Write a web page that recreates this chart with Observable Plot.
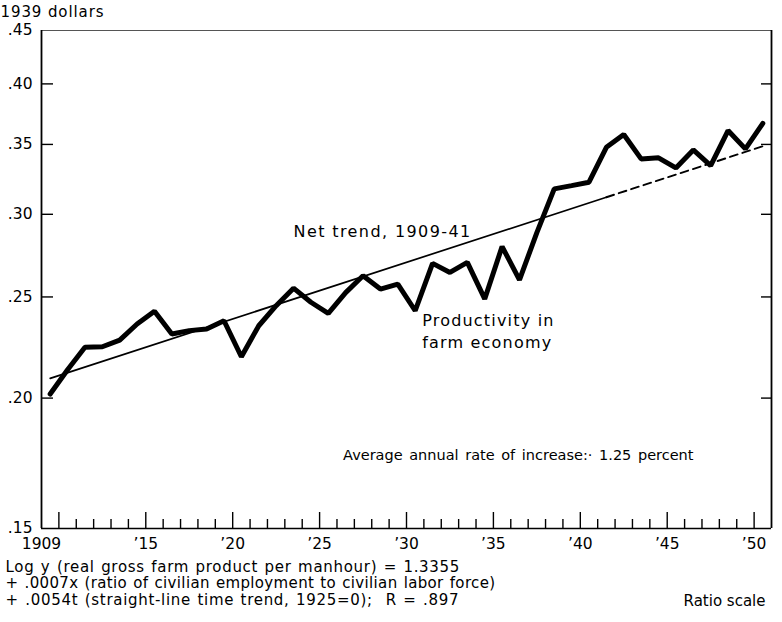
<!DOCTYPE html>
<html><head><meta charset="utf-8">
<script src="https://cdn.jsdelivr.net/npm/d3@7"></script>
<script src="https://cdn.jsdelivr.net/npm/@observablehq/plot@0.6"></script>
<style>
body{margin:0;background:#fff}
#chart svg{display:block}
</style>
</head><body><div id="chart"></div>
<script>
// Productivity in farm economy, 1939 dollars per manhour
const years = [1909,1910,1911,1912,1913,1914,1915,1916,1917,1918,1919,1920,1921,1922,1923,1924,1925,1926,1927,1928,1929,1930,1931,1932,1933,1934,1935,1936,1937,1938,1939,1940,1941,1942,1943,1944,1945,1946,1947,1948,1949,1950];
const productivity = [0.2018,0.2129,0.2237,0.2240,0.2273,0.2355,0.2422,0.2304,0.2321,0.2329,0.2372,0.2191,0.2346,0.2452,0.2549,0.2471,0.2411,0.2524,0.2620,0.2544,0.2572,0.2425,0.2692,0.2639,0.2698,0.2489,0.2794,0.2596,0.2881,0.3173,0.3196,0.3220,0.3478,0.3577,0.3390,0.3398,0.3323,0.3458,0.3340,0.3609,0.3466,0.3667];
// Net trend 1909-41 (solid), extended to 1950 (dashed)
const trendYears = [1909, 1941, 1950];
const trendValues = [0.2089, 0.3115, 0.3486];
// Axis ticks and labels
const yTickValues = [0.15, 0.20, 0.25, 0.30, 0.35, 0.40, 0.45];
const yInnerTicks = [0.20, 0.25, 0.30, 0.35, 0.40];
const majorYears = [1910,1915,1920,1925,1930,1935,1940,1945,1950];
const minorYears = [1911,1912,1913,1914,1916,1917,1918,1919,1921,1922,1923,1924,1926,1927,1928,1929,1931,1932,1933,1934,1936,1937,1938,1939,1941,1942,1943,1944,1946,1947,1948,1949];
const xLabelYears = [1909,1915,1920,1925,1930,1935,1940,1945,1950];
const xLabels = ["1909","’15","’20","’25","’30","’35","’40","’45","’50"];
// Texts
const unitLabel = "1939 dollars";
const trendLabel = "Net trend, 1909-41";
const seriesLabel = "Productivity in\nfarm economy";
const rateLabel = "Average annual rate of increase:· 1.25 percent";
const captionLines = [
  "Log y (real gross farm product per manhour) = 1.3355",
  "+ .0007x (ratio of civilian employment to civilian labor force)",
  "+ .0054t (straight-line time trend, 1925=0);  R = .897"
];
const scaleNote = "Ratio scale";
// Annotation anchors (data coordinates)
const trendLabelPos = {year: 1923.5, value: 0.2885};
const seriesLabelPos = {year: 1930.9, value: 0.2326};
const rateLabelPos = {year: 1926.35, value: 0.1761};

const series = years.map((y, i) => ({year: y + 0.5, value: productivity[i]}));
const trend = trendYears.map((y, i) => ({year: y + 0.5, value: trendValues[i]}));

const font = "DejaVu Sans";
const chart = Plot.plot({
  width: 782,
  height: 622,
  marginTop: 30,
  marginRight: 11,
  marginBottom: 94,
  marginLeft: 41,
  style: {fontFamily: font, background: "#fff", color: "#000"},
  x: {domain: [1909, 1951], axis: null},
  y: {type: "log", domain: [0.15, 0.45], axis: null},
  marks: [
    // frame
    Plot.ruleY([0.45], {stroke: "#555", strokeWidth: 1}),
    Plot.ruleY([0.15], {stroke: "#000", strokeWidth: 1.6}),
    Plot.ruleX([1909, 1951], {stroke: "#000", strokeWidth: 1.8}),
    // y ticks inward
    Plot.axisY(yInnerTicks, {anchor: "left", label: null, tickSize: -12, strokeWidth: 1.4, tickFormat: () => ""}),
    Plot.axisY(yInnerTicks, {anchor: "right", label: null, tickSize: -11, strokeWidth: 1.4, tickFormat: () => ""}),
    Plot.axisY(yTickValues, {anchor: "left", label: null, tickSize: 0, tickPadding: 9, fontSize: 15.5,
      tickFormat: d => d3.format(".2f")(d).replace(/^0/, "")}),
    // x ticks inward
    Plot.axisX(minorYears, {anchor: "bottom", label: null, tickSize: -9, strokeWidth: 1.4, tickFormat: () => ""}),
    Plot.axisX(majorYears, {anchor: "bottom", label: null, tickSize: -16, strokeWidth: 1.4, tickFormat: () => ""}),
    Plot.axisX(xLabelYears, {anchor: "bottom", label: null, tickSize: 0, tickPadding: 9, fontSize: 15.5,
      tickFormat: d => xLabels[xLabelYears.indexOf(d)]}),
    // trend lines
    Plot.line(trend.slice(0, 2), {x: "year", y: "value", stroke: "#000", strokeWidth: 1.7}),
    Plot.line(trend.slice(1), {x: "year", y: "value", stroke: "#000", strokeWidth: 1.9, strokeDasharray: "8,5"}),
    // productivity
    Plot.line(series, {x: "year", y: "value", stroke: "#000", strokeWidth: 5, strokeLinejoin: "miter", strokeLinecap: "round"}),
    // annotations
    Plot.text([trendLabelPos], {x: "year", y: "value", text: () => trendLabel, textAnchor: "start", fontSize: 16}),
    Plot.text([seriesLabelPos], {x: "year", y: "value", text: () => seriesLabel, textAnchor: "start", fontSize: 16,
      lineHeight: 1.38}),
    Plot.text([rateLabelPos], {x: "year", y: "value", text: () => rateLabel, textAnchor: "start", fontSize: 14.5}),
    Plot.text([unitLabel], {frameAnchor: "top-left", text: d => d, textAnchor: "start", dx: -41, dy: -18, fontSize: 15,
      lineAnchor: "middle"}),
    Plot.text([captionLines.join("\n")], {frameAnchor: "bottom-left", text: d => d, textAnchor: "start", dx: -36, dy: 31,
      fontSize: 15, lineHeight: 1.13, lineAnchor: "top"}),
    Plot.text([scaleNote], {frameAnchor: "bottom-right", text: d => d, textAnchor: "end", dx: -6, dy: 73, fontSize: 15,
      lineAnchor: "middle"})
  ]
});

// letter / word spacing to mimic the wide lettering of the original
const spacing = [
  [trendLabel, "1.4px", null],
  [seriesLabel.split("\n")[0], "1.2px", null],
  [rateLabel, null, "2px"],
  [unitLabel, "0.9px", null],
  [captionLines[0], "0.7px", "1px"]
];
d3.select(chart).selectAll("text").each(function() {
  const t = this.textContent;
  for (const [start, ls, ws] of spacing) {
    if (t.startsWith(start)) {
      if (ls) this.setAttribute("letter-spacing", ls);
      if (ws) this.setAttribute("word-spacing", ws);
    }
  }
});
d3.select(chart).selectAll("tspan").each(function() {
  if (this.textContent === captionLines[1]) this.setAttribute("letter-spacing", "0.35px");
});
document.getElementById("chart").appendChild(chart);
</script>
</body></html>
